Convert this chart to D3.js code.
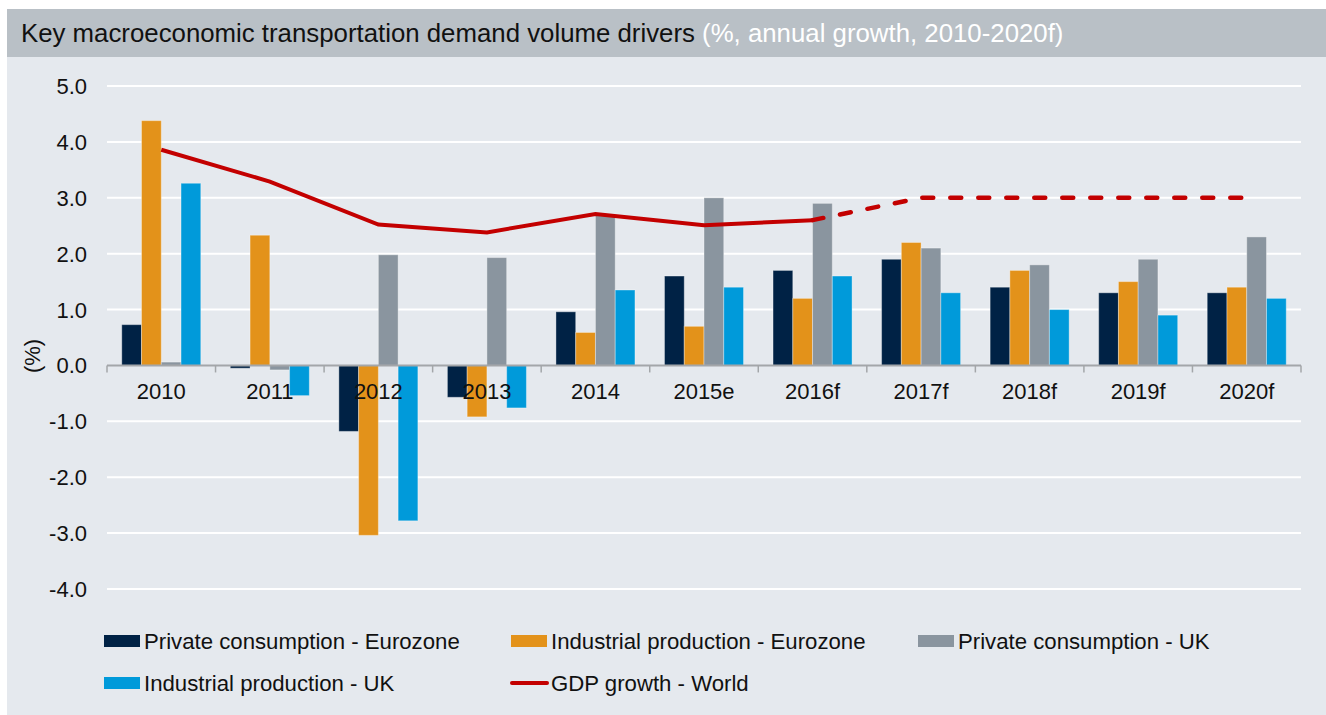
<!DOCTYPE html>
<html>
<head>
<meta charset="utf-8">
<script src="https://cdn.jsdelivr.net/npm/d3@7"></script>
<style>
  body { margin: 0; background: #fff; }
  text { font-family: "Liberation Sans", Arial, sans-serif; }
</style>
</head>
<body id="viz">
<script>
// Data
var categories = ["2010", "2011", "2012", "2013", "2014", "2015e", "2016f", "2017f", "2018f", "2019f", "2020f"]
var pcEurozone = [0.73, -0.05, -1.18, -0.57, 0.96, 1.6, 1.7, 1.9, 1.4, 1.3, 1.3]
var ipEurozone = [4.38, 2.33, -3.04, -0.92, 0.59, 0.7, 1.2, 2.2, 1.7, 1.5, 1.4]
var pcUK = [0.06, -0.08, 1.98, 1.93, 2.69, 3.0, 2.9, 2.1, 1.8, 1.9, 2.3]
var ipUK = [3.26, -0.54, -2.78, -0.76, 1.35, 1.4, 1.6, 1.3, 1.0, 0.9, 1.2]
var gdpWorld = [3.86, 3.29, 2.52, 2.38, 2.71, 2.51, 2.6, 3.0, 3.0, 3.0, 3.0]
var forecastFrom = "2016f"   // line is dashed from here on
var yTicks = [-4, -3, -2, -1, 0, 1, 2, 3, 4, 5]

var seriesNames = ["Private consumption - Eurozone", "Industrial production - Eurozone", "Private consumption - UK", "Industrial production - UK"]
var seriesValues = [pcEurozone, ipEurozone, pcUK, ipUK]
var seriesColors = ["#002245", "#E3921A", "#8A959F", "#009ADA"]
var lineName = "GDP growth - World"
var lineColor = "#C30000"

// Sizes
var svg_width = 1326
var svg_height = 715
var plot_left = 107
var plot_right = 1301
var font = 22

var svg = d3.select("body#viz")
  .append("svg")
  .attr("width", svg_width)
  .attr("height", svg_height)

// panel + title bar
svg.append("rect")
  .attr("x", 7).attr("y", 57)
  .attr("width", svg_width - 7).attr("height", svg_height - 57)
  .attr("fill", "#E5E9EE")
svg.append("rect")
  .attr("x", 7).attr("y", 9)
  .attr("width", svg_width - 7).attr("height", 48)
  .attr("fill", "#B9C0C6")

var title = svg.append("text")
  .attr("x", 21).attr("y", 42)
  .style("font-size", "25.8px")
  .style("fill", "#111")
title.append("tspan").text("Key macroeconomic transportation demand volume drivers ")
title.append("tspan").style("fill", "#fff").text("(%, annual growth, 2010-2020f)")

// Scales
var x = d3.scaleBand()
  .domain(categories)
  .range([plot_left, plot_right])
  .padding(0)

var x1 = d3.scaleBand()
  .domain(d3.range(seriesNames.length))
  .range([x.bandwidth() * 0.136, x.bandwidth() * 0.864])
  .padding(0)

var y = d3.scaleLinear()
  .domain([-4, 5])
  .range([589, 86])

// gridlines
svg.append("g")
  .selectAll("line")
  .data(yTicks.filter(function(d) { return d != 0 }))
  .enter().append("line")
    .attr("x1", plot_left).attr("x2", plot_right)
    .attr("y1", function(d) { return y(d) })
    .attr("y2", function(d) { return y(d) })
    .style("stroke", "#fff")
    .style("stroke-width", 2)

// y tick labels (plain hyphen for negatives, like the original)
svg.append("g")
  .selectAll("text")
  .data(yTicks)
  .enter().append("text")
    .attr("x", 87)
    .attr("y", function(d) { return y(d) + 8 })
    .attr("text-anchor", "end")
    .style("font-size", font + "px")
    .style("fill", "#111")
    .text(function(d) { return d.toFixed(1) })

// axis label
svg.append("text")
  .attr("transform", "translate(40,356) rotate(-90)")
  .attr("text-anchor", "middle")
  .style("font-size", font + "px")
  .style("fill", "#111")
  .text("(%)")

// Bars
seriesValues.forEach(function(vals, i) {
  svg.append("g")
    .selectAll("rect")
    .data(vals)
    .enter().append("rect")
      .attr("x", function(d, j) { return x(categories[j]) + x1(i) })
      .attr("width", x1.bandwidth())
      .attr("y", function(d) { return y(Math.max(0, d)) })
      .attr("height", function(d) { return Math.abs(y(d) - y(0)) })
      .attr("fill", seriesColors[i])
      .style("stroke", "rgba(255,255,255,0.35)")
      .style("stroke-width", 1)
})

// x axis (line + ticks at category edges)
var xAxis = d3.axisBottom(x).tickSize(0).tickFormat("")
svg.append("g")
  .attr("transform", "translate(0," + y(0) + ")")
  .call(xAxis)
  .call(function(g) {
    g.select(".domain").remove()
    g.append("line")
      .attr("x1", plot_left).attr("x2", plot_right)
      .style("stroke", "#A3A6A9").style("stroke-width", 2)
    g.selectAll(".edge")
      .data(d3.range(categories.length + 1))
      .enter().append("line")
        .attr("class", "edge")
        .attr("x1", function(k) { return plot_left + k * x.bandwidth() })
        .attr("x2", function(k) { return plot_left + k * x.bandwidth() })
        .attr("y1", 0).attr("y2", 7)
        .style("stroke", "#A3A6A9").style("stroke-width", 1.5)
  })

// category labels
svg.append("g")
  .selectAll("text")
  .data(categories)
  .enter().append("text")
    .attr("x", function(d) { return x(d) + x.bandwidth() / 2 })
    .attr("y", 399)
    .attr("text-anchor", "middle")
    .style("font-size", font + "px")
    .style("fill", "#111")
    .text(function(d) { return d })

// GDP line, solid then dashed for forecasts
var gdp = categories.map(function(c, j) { return {cat: c, v: gdpWorld[j]} })
var split = categories.indexOf(forecastFrom)
var line = d3.line()
  .x(function(d) { return x(d.cat) + x.bandwidth() / 2 })
  .y(function(d) { return y(d.v) })

svg.append("path")
  .datum(gdp.slice(0, split + 1))
  .attr("d", line)
  .style("fill", "none")
  .style("stroke", lineColor)
  .style("stroke-width", 4)
svg.append("path")
  .datum(gdp.slice(split))
  .attr("d", line)
  .style("fill", "none")
  .style("stroke", lineColor)
  .style("stroke-width", 4.5)
  .style("stroke-linecap", "round")
  .style("stroke-dasharray", "11,17")

// Legend
var legend = [
  {name: seriesNames[0], color: seriesColors[0], x: 104, y: 641, type: "bar"},
  {name: seriesNames[1], color: seriesColors[1], x: 511, y: 641, type: "bar"},
  {name: seriesNames[2], color: seriesColors[2], x: 918, y: 641, type: "bar"},
  {name: seriesNames[3], color: seriesColors[3], x: 104, y: 683, type: "bar"},
  {name: lineName, color: lineColor, x: 511, y: 683, type: "line"}
]
var lg = svg.append("g").selectAll("g")
  .data(legend)
  .enter().append("g")
    .attr("transform", function(d) { return "translate(" + d.x + "," + d.y + ")" })
lg.filter(function(d) { return d.type == "bar" })
  .append("rect")
    .attr("x", 0).attr("y", -6)
    .attr("width", 36).attr("height", 12)
    .attr("fill", function(d) { return d.color })
lg.filter(function(d) { return d.type == "line" })
  .append("line")
    .attr("x1", 1).attr("x2", 36)
    .style("stroke", function(d) { return d.color })
    .style("stroke-width", 4)
    .style("stroke-linecap", "round")
lg.append("text")
  .attr("x", 40).attr("y", 8)
  .style("font-size", "22.2px")
  .style("fill", "#111")
  .text(function(d) { return d.name })
</script>
</body>
</html>
